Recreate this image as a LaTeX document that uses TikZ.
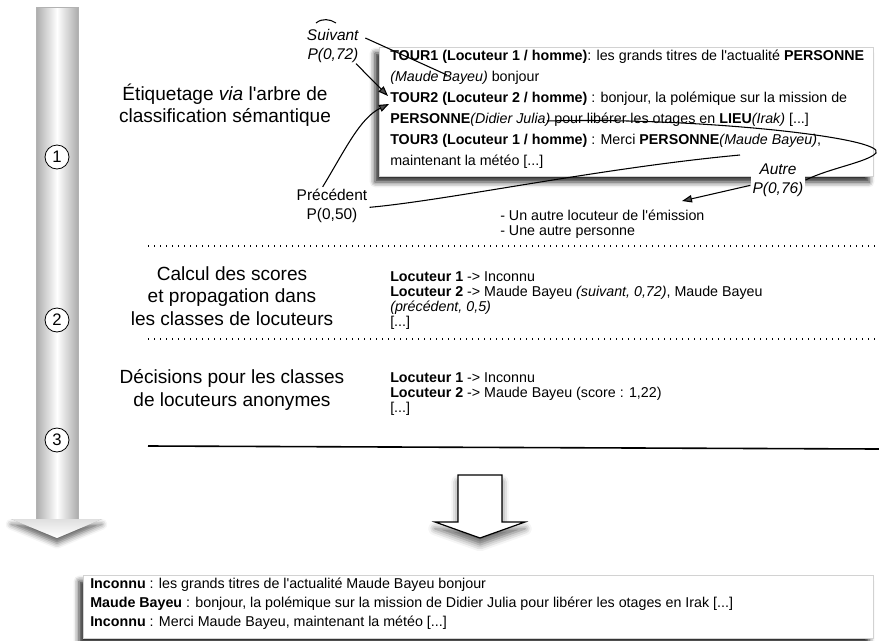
\documentclass[tikz,border=0pt]{standalone}
\usepackage{fontspec}
\setmainfont{Liberation Sans}[Ligatures=TeXOff]
\usetikzlibrary{arrows.meta,shadows.blur}
\begin{document}
\begin{tikzpicture}[x=0.75pt,y=-0.75pt,
 sm/.style={font=\fontsize{10.7}{12.8}\selectfont, anchor=west, inner sep=0pt, text height=7.6pt, text depth=2.2pt},
 bigtxt/.style={font=\fontsize{14.3}{16.9}\selectfont, align=center, inner sep=0pt},
 tag/.style={font=\fontsize{11.6}{14.3}\selectfont, align=center, fill=white, inner sep=1.5pt},
 conn/.style={line width=0.8pt},
 arr/.style={conn,-{Triangle[length=7.5pt,width=5.5pt]}},
 sepline/.style={line width=0.9pt, dash pattern=on 0.9pt off 3.6pt},
 panel/.style={draw=gray!35, line width=0.4pt, fill=white, inner sep=0pt,
   blur shadow={shadow xshift=-3pt, shadow yshift=-4.5pt, shadow blur radius=4pt, shadow opacity=85}},
 numcirc/.style={circle, draw, line width=0.6pt, fill=white, minimum size=18pt, inner sep=0pt, font=\fontsize{12.5}{13}\selectfont},
]
\useasboundingbox (0,0) rectangle (879,640);

% ---- big vertical process arrow ----
\fill[gray!70, blur shadow={shadow xshift=0pt, shadow yshift=-4pt, shadow blur radius=4pt, shadow opacity=60}]
  (11,519) -- (102,519) -- (57,538) -- cycle;
\shade[left color=gray!65, right color=gray!65, middle color=white] (36,7) rectangle (78,520);
\draw[gray!60, line width=0.5pt] (36,520) -- (36,7) -- (78,7) -- (78,520);
\shade[top color=gray!25, bottom color=white] (11,519) -- (102,519) -- (57,538) -- cycle;
\node[numcirc] (n1) at (57,157) {1};
\node[numcirc] (n2) at (57,320) {2};
\node[numcirc] (n3) at (57,440) {3};

% ---- top example panel ----
\node[panel, minimum width=370.5pt, minimum height=96.75pt] (tbox) at (626,111.5) {};
\node[sm] (l1) at (390,57) {\textbf{TOUR1 (Locuteur 1 / homme)}: les grands titres de l'actualité \textbf{PERSONNE}};
\node[sm] (l2) at (390,78) {\textit{(Maude Bayeu)} bonjour};
\node[sm] (l3) at (390,99) {\textbf{TOUR2 (Locuteur 2 / homme)} : bonjour, la polémique sur la mission de};
\node[sm] (l4) at (390,120) {\textbf{PERSONNE}\textit{(Didier Julia)} pour libérer les otages en \textbf{LIEU}\textit{(Irak)} [...]};
\node[sm] (l5) at (390,141) {\textbf{TOUR3 (Locuteur 1 / homme)} : Merci \textbf{PERSONNE}\textit{(Maude Bayeu)},};
\node[sm] (l6) at (390,162) {maintenant la météo [...]};

\node[sm] (o1) at (500,217) {- Un autre locuteur de l'émission};
\node[sm] (o2) at (500,232) {- Une autre personne};

% ---- labels ----
\node[tag, fill=none] (suiv) at (333,46) {\textit{Suivant}\\\textit{P(0,72)}};
\node[tag] (prec) at (332,206) {Précédent\\P(0,50)};
\node[tag] (autre) at (778,180) {\textit{Autre}\\\textit{P(0,76)}};

\coordinate (sq1) at (316,23);
\coordinate (sq2) at (336,23);
\coordinate (mb1) at (447,75);
\coordinate (t2a) at (388,96);
\coordinate (t2b) at (389,104);
\coordinate (dj) at (547,121);
\coordinate (mb3) at (740,155);
\coordinate (oth) at (682,201);

\draw[conn] (sq1) .. controls (322,18) and (330,19) .. (sq2);
\draw[conn] ([xshift=3pt,yshift=6pt]suiv.east) -- (mb1);
\draw[arr] ([xshift=-4pt,yshift=1pt]suiv.south east) -- (t2a);
\draw[arr] ([xshift=-7pt]prec.north) .. controls (345,150) and (360,118) .. (t2b);
\draw[conn] ([yshift=-1pt]prec.east) .. controls (450,200) and (600,168) .. (mb3);
\draw[conn] (dj) .. controls (700,117) and (887,138) .. (876,153)
   .. controls (868,162) and (830,168) .. (autre.east);
\draw[arr] ([yshift=-4pt]autre.west) -- (oth);

% ---- left step labels ----
\node[bigtxt] (s1) at (225,105) {Étiquetage \textit{via} l'arbre de\\classification sémantique};
\node[bigtxt] (s2) at (232,296) {Calcul des scores\\et propagation dans\\les classes de locuteurs};
\node[bigtxt] (s3) at (232,390) {Décisions pour les classes\\de locuteurs anonymes};

% ---- separators ----
\coordinate (d1a) at (148,246); \coordinate (d1b) at (879,246);
\coordinate (d2a) at (148,339); \coordinate (d2b) at (879,339);
\coordinate (d3a) at (148,446); \coordinate (d3b) at (879,449);
\draw[sepline] (d1a) -- (d1b);
\draw[sepline] (d2a) -- (d2b);
\draw[line width=1.2pt] (d3a) -- (d3b);

% ---- scores ----
\node[sm] (c1) at (390,278) {\textbf{Locuteur 1} -> Inconnu};
\node[sm] (c2) at (390,293) {\textbf{Locuteur 2} -> Maude Bayeu \textit{(suivant, 0,72)}, Maude Bayeu};
\node[sm] (c3) at (390,308) {\textit{(précédent, 0,5)}};
\node[sm] (c4) at (390,323) {[...]};

% ---- decisions ----
\node[sm] (e1) at (390,379) {\textbf{Locuteur 1} -> Inconnu};
\node[sm] (e2) at (390,394) {\textbf{Locuteur 2} -> Maude Bayeu (score : 1,22)};
\node[sm] (e3) at (390,409) {[...]};

% ---- hollow arrow ----
\draw[line width=0.9pt, fill=white, blur shadow={shadow xshift=0pt, shadow yshift=-5pt, shadow blur radius=5pt, shadow opacity=60}]
  (458,475) -- (502,475) -- (502,522) -- (525,522) -- (480,538) -- (435,522) -- (458,522) -- cycle;

% ---- result panel ----
\node[panel, minimum width=592.5pt, minimum height=47.25pt] (rbox) at (478,606.5) {};
\node[sm] (r1) at (90,585) {\textbf{Inconnu} : les grands titres de l'actualité Maude Bayeu bonjour};
\node[sm] (r2) at (90,604) {\textbf{Maude Bayeu} : bonjour, la polémique sur la mission de Didier Julia pour libérer les otages en Irak [...]};
\node[sm] (r3) at (90,623) {\textbf{Inconnu} : Merci Maude Bayeu, maintenant la météo [...]};
\end{tikzpicture}
\end{document}
